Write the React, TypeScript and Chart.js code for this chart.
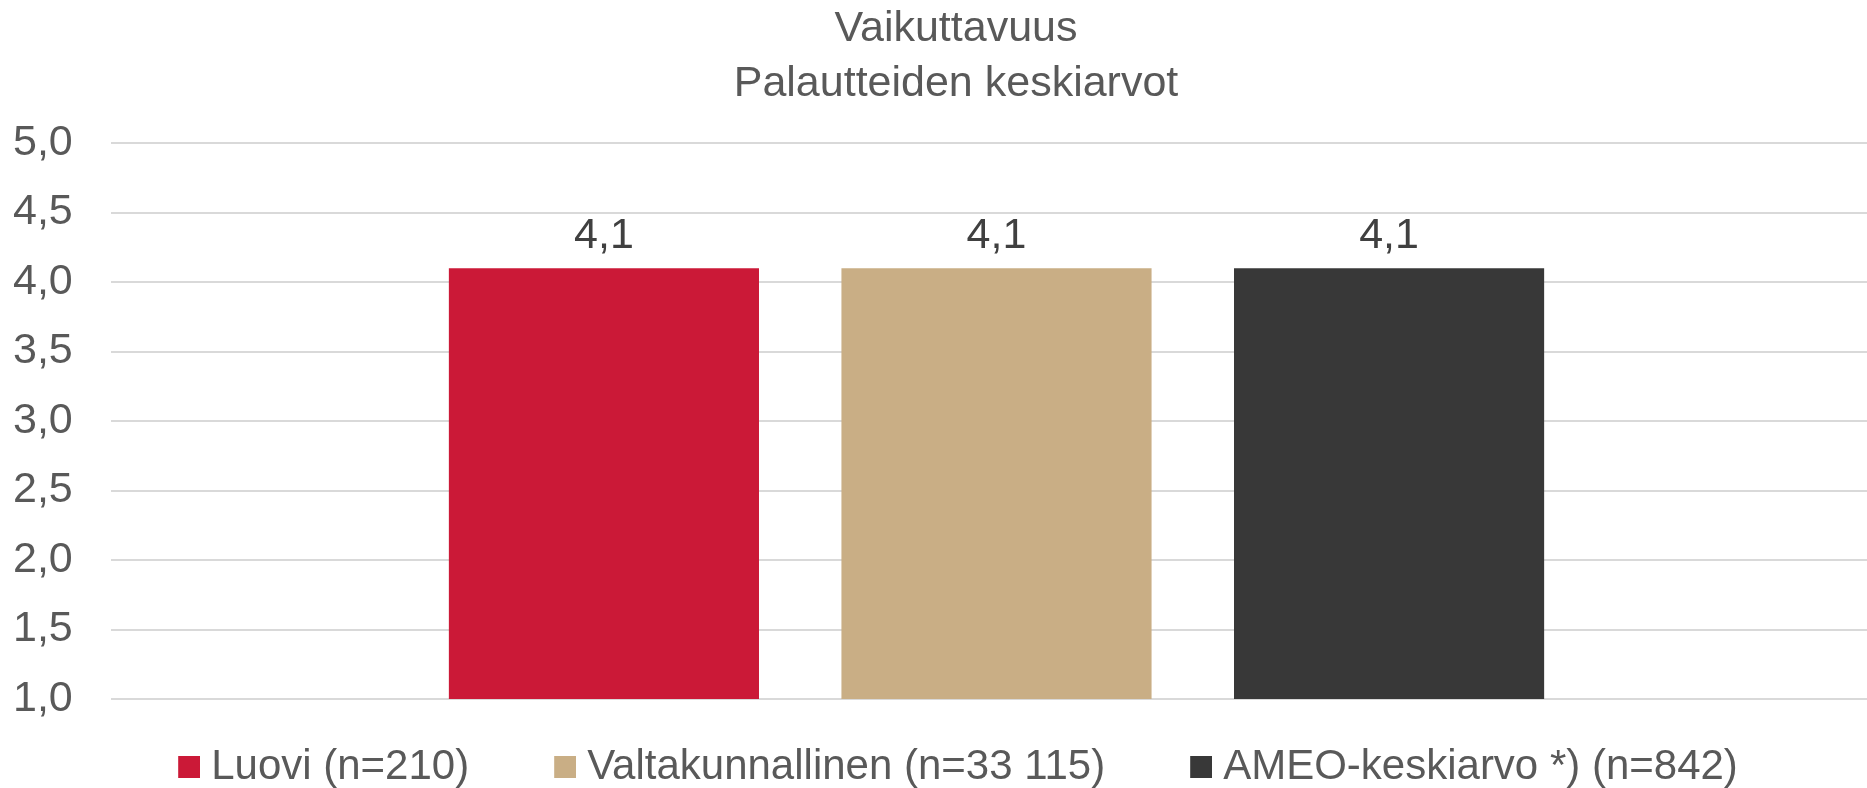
import React, { useEffect, useRef } from "react";
import { Chart, registerables } from "chart.js";

Chart.register(...registerables);

const titleLines = ["Vaikuttavuus", "Palautteiden keskiarvot"];
const categories = [""];
const seriesNames = [
  "Luovi (n=210)",
  "Valtakunnallinen (n=33 115)",
  "AMEO-keskiarvo *) (n=842)",
];
const seriesValues = [4.1, 4.1, 4.1];
const seriesColors = ["#CB1937", "#C9AE85", "#383838"];
const yMin = 1;
const yMax = 5;
const yStep = 0.5;

const FONT = "'Liberation Sans', Arial, Helvetica, sans-serif";
const fmt = (v: number) => v.toFixed(1).replace(".", ",");

// square legend swatch, drawn at the right end of a transparent strip so the
// legend keeps a narrow gap between swatch and text
const makeSwatch = (color: string) => {
  const c = document.createElement("canvas");
  c.width = 70;
  c.height = 22;
  const g = c.getContext("2d");
  if (g) {
    g.fillStyle = color;
    g.fillRect(48, 0, 22, 22);
  }
  return c;
};

const valueLabels = {
  id: "valueLabels",
  afterDatasetsDraw(chart: any) {
    const ctx = chart.ctx;
    ctx.save();
    ctx.font = `43px ${FONT}`;
    ctx.fillStyle = "#404040";
    ctx.textAlign = "center";
    ctx.textBaseline = "alphabetic";
    chart.data.datasets.forEach((ds: any, i: number) => {
      const meta = chart.getDatasetMeta(i);
      meta.data.forEach((el: any, j: number) => {
        ctx.fillText(fmt(ds.data[j]), el.x, el.y - 20);
      });
    });
    ctx.restore();
  },
};

const legendShift = {
  id: "legendShift",
  afterLayout(chart: any) {
    if (chart.legend) {
      chart.legend.left -= 17;
      chart.legend.right -= 17;
    }
  },
};

export default function App() {
  const ref = useRef<HTMLCanvasElement>(null);

  useEffect(() => {
    if (!ref.current) return;
    const swatches = seriesColors.map(makeSwatch);
    const defaultGen = (Chart as any).defaults.plugins.legend.labels.generateLabels;
    const chart = new Chart(ref.current, {
      type: "bar",
      data: {
        labels: categories,
        datasets: seriesNames.map((name, i) => ({
          label: name,
          data: [seriesValues[i]],
          backgroundColor: seriesColors[i],
          borderWidth: 0,
          categoryPercentage: 0.665,
          barPercentage: 0.79,
        })),
      },
      options: {
        responsive: false,
        animation: false,
        devicePixelRatio: 1,
        layout: { padding: { left: 30, right: 0, top: 0, bottom: 0 } },
        scales: {
          x: { display: false },
          y: {
            min: yMin,
            max: yMax,
            border: { display: false },
            grid: { color: "#D9D9D9", lineWidth: 2, drawTicks: false },
            ticks: {
              stepSize: yStep,
              mirror: true,
              crossAlign: "near",
              padding: -98,
              color: "#595959",
              font: { size: 43, family: FONT },
              callback: (v: any) => fmt(Number(v)),
            },
            afterFit: (scale: any) => {
              scale.width = 81;
            },
          },
        },
        plugins: {
          title: {
            display: true,
            text: titleLines,
            color: "#595959",
            font: { size: 43, weight: "normal", family: FONT, lineHeight: 1.28 },
            padding: { top: 2, bottom: 31 },
          },
          legend: {
            display: true,
            position: "bottom",
            labels: {
              usePointStyle: true,
              pointStyleWidth: 50,
              boxHeight: 22,
              padding: 47,
              color: "#595959",
              font: { size: 42, family: FONT },
              generateLabels: (c: any) =>
                defaultGen(c).map((item: any, i: number) => ({
                  ...item,
                  pointStyle: swatches[i],
                })),
            },
          },
          tooltip: { enabled: false },
        },
      },
      plugins: [valueLabels, legendShift],
    } as any);
    return () => chart.destroy();
  }, []);

  return (
    <div
      style={{
        position: "absolute",
        left: 0,
        top: 0,
        width: 1867,
        height: 788,
        overflow: "hidden",
        background: "#ffffff",
      }}
    >
      <canvas ref={ref} width={1882} height={798} style={{ display: "block" }} />
    </div>
  );
}
